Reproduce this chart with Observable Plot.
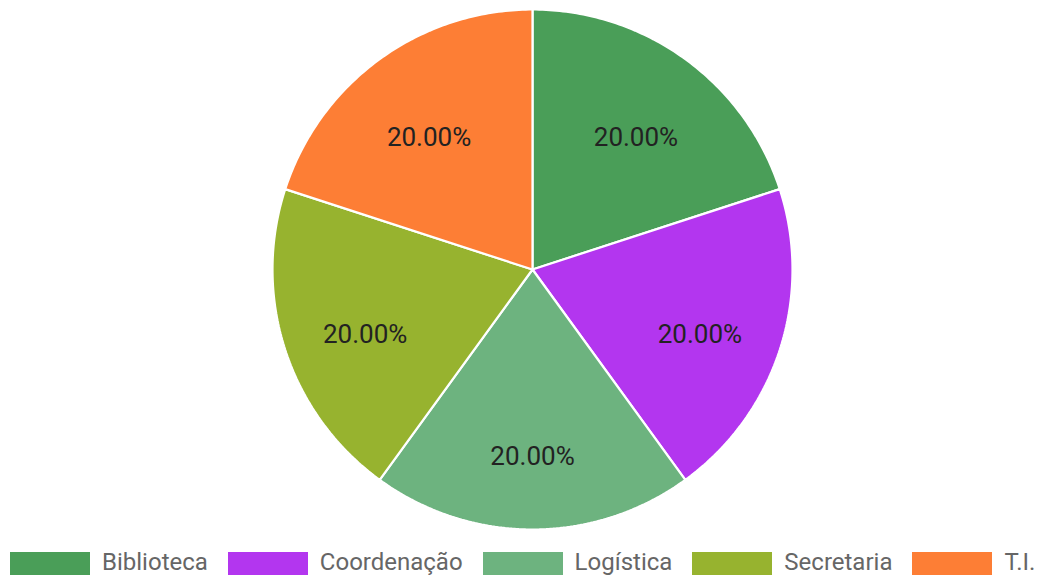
<!DOCTYPE html>
<html>
<head>
<meta charset="utf-8">
<script src="https://cdn.jsdelivr.net/npm/d3@7"></script>
<script src="https://cdn.jsdelivr.net/npm/@observablehq/plot@0.6"></script>
<style>
  html, body { margin: 0; padding: 0; background: #fff; }
  body { font-family: Roboto, "Noto Sans", sans-serif; width: 1038px; }
  #legend { display: flex; justify-content: flex-start; align-items: flex-start; height: 35px; margin-top: 10px; padding-left: 10px; }
  .item { display: flex; align-items: flex-start; margin-right: 20px; }
  .sw { width: 80px; height: 24px; margin-top: 2px; margin-right: 12px; }
  .lb { font-size: 24px; line-height: 24px; color: #666; white-space: nowrap; }
</style>
</head>
<body>
<div id="chart"></div>
<div id="legend"></div>
<script>
const categories = ["Biblioteca", "Coordenação", "Logística", "Secretaria", "T.I."];
const values = [1, 1, 1, 1, 1];
const colors = ["#4a9e58", "#b336ef", "#6db37f", "#97b32f", "#fd7e35"];

const total = d3.sum(values);
const pie = d3.pie().sort(null).value(d => d.value);
const arcs = pie(categories.map((c, i) => ({category: c, value: values[i]})));

// polygon vertices for each slice (unit circle, angle clockwise from top)
const verts = [];
const steps = 96;
for (const a of arcs) {
  verts.push({category: a.data.category, x: 0, y: 0});
  for (let k = 0; k <= steps; k++) {
    const t = a.startAngle + (a.endAngle - a.startAngle) * k / steps;
    verts.push({category: a.data.category, x: Math.sin(t), y: Math.cos(t)});
  }
}
const labelR = 176 / 260;
const labels = arcs.map(a => {
  const m = (a.startAngle + a.endAngle) / 2;
  return {category: a.data.category, x: labelR * Math.sin(m), y: labelR * Math.cos(m),
          text: (a.data.value / total * 100).toFixed(2) + "%"};
});

const chart = Plot.plot({
  width: 1038,
  height: 540,
  marginLeft: 272,
  marginRight: 246,
  marginTop: 9,
  marginBottom: 11,
  x: {domain: [-1, 1], axis: null},
  y: {domain: [-1, 1], axis: null},
  color: {domain: categories, range: colors, legend: false},
  style: {fontFamily: "Roboto, sans-serif", background: "#fff"},
  marks: [
    Plot.line(verts, {x: "x", y: "y", z: "category", fill: "category", stroke: "white",
                      strokeWidth: 2.2, curve: "linear-closed", strokeLinejoin: "miter"}),
    Plot.text(labels, {x: "x", y: "y", text: "text", fontSize: 26, fill: "#222", dy: 11})
  ]
});
document.getElementById("chart").append(chart);

const legend = document.getElementById("legend");
categories.forEach((c, i) => {
  const item = document.createElement("div");
  item.className = "item";
  const sw = document.createElement("div");
  sw.className = "sw";
  sw.style.background = colors[i];
  const lb = document.createElement("div");
  lb.className = "lb";
  lb.textContent = c;
  item.append(sw, lb);
  legend.append(item);
});
</script>
</body>
</html>
